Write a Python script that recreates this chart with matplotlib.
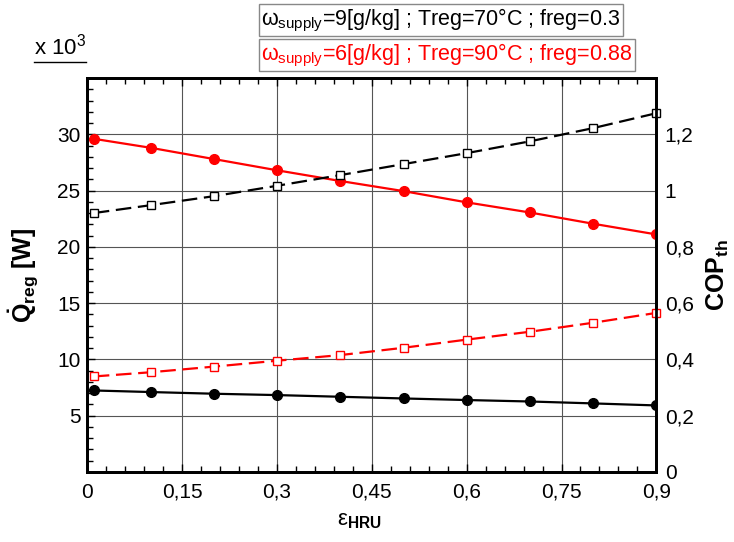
import numpy as np
import matplotlib
matplotlib.use('Agg')
import matplotlib.pyplot as plt
from matplotlib.ticker import MultipleLocator, FixedLocator, FuncFormatter

plt.rcParams['font.family'] = ['Liberation Sans', 'DejaVu Sans']
plt.rcParams['mathtext.fontset'] = 'custom'
plt.rcParams['mathtext.rm'] = 'Liberation Sans'
plt.rcParams['mathtext.it'] = 'Liberation Sans:italic'
plt.rcParams['mathtext.bf'] = 'Liberation Sans:bold'

eps_hru = [0.01, 0.1, 0.2, 0.3, 0.4, 0.5, 0.6, 0.7, 0.8, 0.9]

# Q_reg [x 10^3 W], left axis
q_reg_90 = [29.6, 28.8, 27.8, 26.8, 25.85, 24.95, 23.95, 23.05, 22.05, 21.1]
q_reg_70 = [7.23, 7.09, 6.94, 6.82, 6.67, 6.52, 6.38, 6.25, 6.08, 5.9]

# COP_th, right axis
cop_70 = [0.92, 0.948, 0.98, 1.017, 1.055, 1.094, 1.133, 1.175, 1.222, 1.275]
cop_90 = [0.339, 0.354, 0.374, 0.395, 0.415, 0.441, 0.47, 0.498, 0.53, 0.565]

legend_70 = r'$\mathregular{\omega_{supply}}$=9[g/kg] ; Treg=70°C ; freg=0.3'
legend_90 = r'$\mathregular{\omega_{supply}}$=6[g/kg] ; Treg=90°C ; freg=0.88'


def comma(v, pos):
    s = ('%.2f' % v).rstrip('0').rstrip('.')
    return s.replace('.', ',')


fig = plt.figure(figsize=(7.34, 5.42), dpi=100)
ax = fig.add_axes([0.1192, 0.1295, 0.775, 0.7265])
ax2 = ax.twinx()

ax.set_xlim(0, 0.9)
ax.set_ylim(0, 35)
ax2.set_ylim(0, 1.4)

ax.grid(True, color='#555555', linewidth=0.8)
ax.set_axisbelow(True)

ax.plot(eps_hru, q_reg_90, color='red', lw=1.6, marker='o', ms=7, mfc='red', mec='red', zorder=3)
ax.plot(eps_hru, q_reg_70, color='black', lw=1.6, marker='o', ms=7, mfc='black', mec='black', zorder=3)
ax2.plot(eps_hru, cop_70, color='black', lw=1.6, dashes=(7, 3), marker='s', ms=6,
         mfc='white', mec='black', mew=1.0, clip_on=False)
ax2.plot(eps_hru, cop_90, color='red', lw=1.6, dashes=(7, 3), marker='s', ms=6,
         mfc='white', mec='red', mew=1.0, clip_on=False)

ax.xaxis.set_major_locator(MultipleLocator(0.15))
ax.xaxis.set_minor_locator(MultipleLocator(0.03))
ax.xaxis.set_major_formatter(FuncFormatter(comma))
ax.yaxis.set_major_locator(FixedLocator([5, 10, 15, 20, 25, 30]))
ax.yaxis.set_minor_locator(MultipleLocator(1))
ax2.yaxis.set_major_locator(FixedLocator([0, 0.2, 0.4, 0.6, 0.8, 1.0, 1.2]))
ax2.yaxis.set_major_formatter(FuncFormatter(comma))

ax.tick_params(axis='both', which='major', direction='in', length=6, width=1, labelsize=15, top=True)
ax.tick_params(axis='both', which='minor', direction='in', length=4, width=1, top=True)
ax.tick_params(axis='x', pad=8)
ax.tick_params(axis='y', pad=5)
ax2.tick_params(axis='y', which='major', direction='in', length=0, labelsize=15, pad=6)

for a in (ax, ax2):
    for sp in a.spines.values():
        sp.set_linewidth(2)

ax.set_ylabel(r'$\mathbf{\dot{Q}_{reg}}$ [W]', fontsize=18, fontweight='bold', labelpad=12)
ax2.set_ylabel(r'$\mathbf{COP_{th}}$', fontsize=18, fontweight='bold', labelpad=8)
fig.text(0.49, 0.03, r'$\mathregular{\epsilon}$$\mathbf{_{HRU}}$', fontsize=16, ha='center')

fig.text(0.047, 0.9, r'x 10$\mathregular{^3}$', fontsize=16)
fig.add_artist(plt.Line2D([0.047, 0.117], [0.886, 0.886], color='black', lw=1))

fig.text(0.356, 0.963, legend_70, fontsize=15.5, color='black', va='center',
         bbox=dict(boxstyle='square,pad=0.12', fc='white', ec='#888888', lw=1))
fig.text(0.356, 0.898, legend_90, fontsize=15.5, color='red', va='center',
         bbox=dict(boxstyle='square,pad=0.12', fc='white', ec='#888888', lw=1))

fig.savefig('out.png', dpi=100)
